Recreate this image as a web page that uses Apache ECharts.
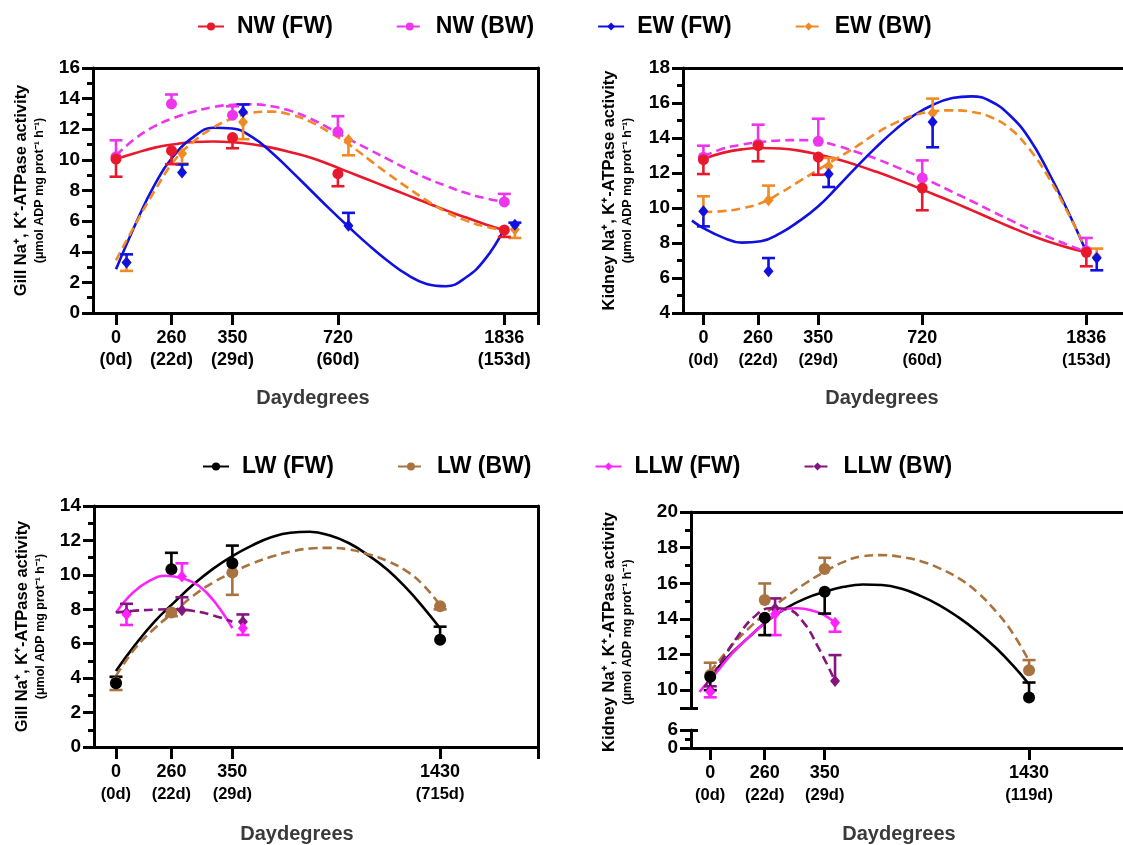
<!DOCTYPE html>
<html>
<head>
<meta charset="utf-8">
<script src="https://cdn.jsdelivr.net/npm/echarts@6/dist/echarts.min.js"></script>
<style>
  html, body { margin: 0; padding: 0; background: #fff; }
  #chart { width: 1123px; height: 845px; }
</style>
</head>
<body>
<div id="chart"></div>
<script>
// ---------- sampling points on the x axis (plotted x value of each sampling point) ----------
const xTop = [0, 1, 2.1, 4, 7];
const xBottom = [0, 1, 2.1, 5.85];

// ---------- tick labels ----------
const ddTop = ['0', '260', '350', '720', '1836'];
const daysTop = ['(0d)', '(22d)', '(29d)', '(60d)', '(153d)'];
const ddBottom = ['0', '260', '350', '1430'];
const daysGillBottom = ['(0d)', '(22d)', '(29d)', '(715d)'];
const daysKidneyBottom = ['(0d)', '(22d)', '(29d)', '(119d)'];

// ---------- Gill, NW / EW (means and error-bar ends) ----------
const gillNwFwMean = [10.05, 10.6, 11.46, 9.1, 5.42];
const gillNwFwErr  = [8.9, 9.72, 10.76, 8.28, 4.97];
const gillNwBwMean = [10.2, 13.65, 12.92, 11.83, 7.25];
const gillNwBwErr  = [11.28, 14.27, 13.5, 12.85, 7.78];
const gillEwFwMean = [3.29, 9.17, 13.12, 5.69, 5.77];
const gillEwFwErr  = [3.83, 9.7, 13.62, 6.54, 5.9];
const gillEwBwMean = [3.3, 10.41, 12.48, 11.29, 5.45];
const gillEwBwErr  = [2.75, 9.76, 11.35, 10.3, 4.9];

// fitted curves, [x, activity]
const gillNwFwFit = [[0,10.05],[0.35,10.45],[0.7,10.8],[1.05,11.02],[1.4,11.17],[1.75,11.2],[2.1,11.15],[2.45,11.02],[2.8,10.8],[3.15,10.5],[3.5,10.15],[3.85,9.7],[4.2,9.2],[4.55,8.7],[4.9,8.2],[5.25,7.7],[5.6,7.2],[5.95,6.7],[6.3,6.25],[6.65,5.8],[7,5.4]];
const gillNwBwFit = [[0,10.3],[0.35,11.4],[0.7,12.2],[1.05,12.75],[1.4,13.15],[1.75,13.45],[2.1,13.6],[2.45,13.63],[2.8,13.5],[3.15,13.2],[3.5,12.7],[3.85,12.05],[4.2,11.35],[4.55,10.7],[4.9,10.05],[5.25,9.4],[5.6,8.8],[5.95,8.3],[6.3,7.85],[6.65,7.5],[7,7.25]];
const gillEwFwFit = [[0,2.85],[0.35,5.8],[0.7,8.4],[1.05,10.3],[1.4,11.5],[1.75,12.1],[2.1,12.05],[2.45,11.5],[2.8,10.5],[3.15,9.3],[3.5,8.05],[3.85,6.8],[4.2,5.6],[4.55,4.45],[4.9,3.4],[5.25,2.5],[5.6,1.9],[5.95,1.75],[6.3,2.3],[6.65,3.5],[7,5.5]];
const gillEwBwFit = [[0,3.44],[0.35,5.8],[0.7,8.0],[1.05,9.95],[1.4,11.2],[1.75,12.1],[2.1,12.7],[2.45,13.08],[2.8,13.15],[3.15,12.95],[3.5,12.5],[3.85,11.8],[4.2,11.0],[4.55,10.05],[4.9,9.1],[5.25,8.2],[5.6,7.35],[5.95,6.6],[6.3,6.05],[6.65,5.65],[7,5.4]];

// ---------- Kidney, NW / EW ----------
const kidNwFwMean = [12.76, 13.56, 12.91, 11.14, 7.47];
const kidNwFwErr  = [11.94, 12.67, 11.9, 9.87, 6.67];
const kidNwBwMean = [12.9, 13.65, 13.81, 11.71, 7.55];
const kidNwBwErr  = [13.56, 14.76, 15.1, 12.72, 8.29];
const kidEwFwMean = [9.81, 6.38, 11.94, 14.91, 7.14];
const kidEwFwErr  = [8.95, 7.14, 11.2, 13.47, 6.44];
const kidEwBwMean = [9.8, 10.44, 12.38, 15.43, 7.2];
const kidEwBwErr  = [10.67, 11.28, 12.86, 16.25, 7.68];

const kidNwFwFit = [[0,12.8],[0.35,13.15],[0.7,13.35],[1.05,13.43],[1.4,13.4],[1.75,13.28],[2.1,13.05],[2.45,12.78],[2.8,12.45],[3.15,12.08],[3.5,11.68],[3.85,11.25],[4.2,10.8],[4.55,10.35],[4.9,9.88],[5.25,9.4],[5.6,8.93],[5.95,8.48],[6.3,8.08],[6.65,7.75],[7,7.47]];
const kidNwBwFit = [[0,12.95],[0.35,13.38],[0.7,13.62],[1.05,13.77],[1.4,13.86],[1.75,13.88],[2.1,13.81],[2.45,13.55],[2.8,13.2],[3.15,12.82],[3.5,12.38],[3.85,11.92],[4.2,11.45],[4.55,10.92],[4.9,10.4],[5.25,9.85],[5.6,9.32],[5.95,8.8],[6.3,8.35],[6.65,7.9],[7,7.52]];
const kidEwFwFit = [[-0.21,9.28],[0,8.85],[0.35,8.32],[0.7,8.02],[1.05,8.1],[1.4,8.55],[1.75,9.25],[2.1,10.1],[2.45,11.2],[2.8,12.35],[3.15,13.45],[3.5,14.45],[3.85,15.3],[4.2,15.9],[4.55,16.28],[4.9,16.38],[5.25,16.1],[5.6,15.3],[5.95,14.0],[6.3,12.1],[6.65,9.9],[7,7.5]];
const kidEwBwFit = [[0,9.77],[0.35,9.82],[0.7,9.98],[1.05,10.28],[1.4,10.85],[1.75,11.52],[2.1,12.19],[2.45,12.85],[2.8,13.52],[3.15,14.25],[3.5,14.85],[3.85,15.3],[4.2,15.52],[4.55,15.58],[4.9,15.5],[5.25,15.2],[5.6,14.55],[5.95,13.4],[6.3,11.8],[6.65,9.8],[7,7.6]];

// ---------- Gill, LW / LLW ----------
const gillLwFwMean  = [3.7, 10.32, 10.67, 6.23];
const gillLwFwErr   = [4.08, 11.28, 11.7, 6.99];
const gillLwBwMean  = [3.75, 7.81, 10.13, 8.17];
const gillLwBwErr   = [3.31, 7.6, 8.84, 8.0];
const gillLlwFwMean = [7.7, 9.9, 6.9];
const gillLlwFwErr  = [7.09, 10.67, 6.51];
const gillLlwBwMean = [7.8, 7.94, 7.28];
const gillLlwBwErr  = [8.32, 8.7, 7.7];

const gillLwFwFit  = [[0,4.42],[0.35,5.95],[0.7,7.3],[1.05,8.4],[1.4,9.45],[1.75,10.35],[2.1,11.09],[2.45,11.7],[2.8,12.18],[3.15,12.45],[3.5,12.5],[3.85,12.3],[4.2,11.85],[4.55,11.15],[4.9,10.3],[5.25,9.2],[5.55,8.1],[5.85,6.9]];
const gillLwBwFit  = [[0,4.13],[0.35,5.75],[0.7,6.9],[1.05,7.85],[1.4,8.8],[1.75,9.55],[2.1,10.13],[2.45,10.65],[2.8,11.05],[3.15,11.35],[3.5,11.53],[3.85,11.57],[4.2,11.48],[4.55,11.2],[4.9,10.8],[5.25,10.2],[5.55,9.4],[5.85,8.23]];
const gillLlwFwFit = [[0,7.8],[0.3,8.95],[0.6,9.65],[0.9,9.95],[1.2,9.8],[1.5,9.35],[1.8,8.35],[2.1,6.9]];
const gillLlwBwFit = [[0,7.81],[0.35,7.92],[0.7,7.98],[1.05,8.0],[1.4,7.9],[1.75,7.65],[2.1,7.28]];

// ---------- Kidney, LW / LLW ----------
const kidLwFwMean  = [10.75, 14.06, 15.52, 9.59];
const kidLwFwErr   = [10.0, 13.09, 14.3, 10.43];
const kidLwBwMean  = [10.85, 15.06, 16.8, 11.12];
const kidLwBwErr   = [11.54, 15.99, 17.43, 11.69];
const kidLlwFwMean = [9.9, 14.27, 13.78];
const kidLlwFwErr  = [9.6, 13.09, 13.28];
const kidLlwBwMean = [10.0, 14.59, 10.52];
const kidLlwBwErr  = [10.22, 15.15, 11.97];

const kidLwFwFit  = [[0,10.75],[0.35,11.95],[0.7,12.95],[1.05,13.9],[1.4,14.62],[1.75,15.15],[2.1,15.52],[2.45,15.8],[2.8,15.93],[3.15,15.9],[3.5,15.7],[3.85,15.3],[4.2,14.78],[4.55,14.1],[4.9,13.3],[5.25,12.35],[5.55,11.4],[5.84,10.37]];
const kidLwBwFit  = [[0,11.03],[0.35,12.35],[0.7,13.45],[1.05,14.4],[1.4,15.25],[1.75,16.0],[2.1,16.65],[2.45,17.2],[2.8,17.52],[3.15,17.58],[3.5,17.48],[3.85,17.25],[4.2,16.85],[4.55,16.3],[4.9,15.5],[5.25,14.4],[5.55,13.2],[5.84,11.69]];
const kidLlwFwFit = [[-0.2,9.9],[0.1,10.95],[0.4,12.05],[0.7,12.95],[1.0,13.75],[1.3,14.45],[1.6,14.6],[1.9,14.45],[2.1,14.2],[2.29,13.78]];
const kidLlwBwFit = [[-0.1,10.2],[0.2,11.6],[0.5,13.0],[0.8,14.1],[1.1,14.6],[1.4,14.55],[1.7,13.85],[2.0,12.3],[2.29,10.52]];

// ---------- styling ----------
const FONT = "'Liberation Sans', Arial, Helvetica, sans-serif";
const AXIS_W = 3;
const LINE_W = 2.6;
const CAP = 6.5;
const NUDGE = 0.19;           // side-by-side shift of the second group of markers
const DASH = [9, 5];

const C = {
  nwFw: '#e8192c', nwBw: '#ec35ec', ewFw: '#1010e0', ewBw: '#f08a24',
  lwFw: '#000000', lwBw: '#a97340', llwFw: '#ff22ff', llwBw: '#84157f'
};

const nudgeAll5 = [NUDGE, NUDGE, NUDGE, NUDGE, NUDGE];
const nudgeNot0_5 = [0, NUDGE, NUDGE, NUDGE, NUDGE];
const nudgeAll3 = [NUDGE, NUDGE, NUDGE];
const nudgeNot0_3 = [0, NUDGE, NUDGE];

function errorBars(color) {
  return function (params, api) {
    const a = api.coord([api.value(0), api.value(1)]);
    const b = api.coord([api.value(0), api.value(2)]);
    const st = { stroke: color, lineWidth: LINE_W };
    return {
      type: 'group',
      children: [
        { type: 'line', shape: { x1: a[0], y1: a[1], x2: b[0], y2: b[1] }, style: st },
        { type: 'line', shape: { x1: b[0] - CAP, y1: b[1], x2: b[0] + CAP, y2: b[1] }, style: st }
      ]
    };
  };
}

// earlier groups are drawn on top of later ones
function panelSeries(xi, yi, xs, groups) {
  const out = [];
  groups.forEach((g, gi) => {
    const size = g.symbol === 'diamond' ? [10, 12] : g.size;
    const px = i => xs[i] + (g.nudge ? g.nudge[i] : 0);
    out.push({
      type: 'line', name: g.name, xAxisIndex: xi, yAxisIndex: yi,
      data: g.fit, smooth: 0.45, showSymbol: false,
      symbol: g.symbol, symbolSize: size,
      lineStyle: { color: g.color, width: LINE_W, type: g.dash ? DASH : 'solid' },
      itemStyle: { color: g.color },
      z: 2, silent: true, animation: false
    });
    out.push({
      type: 'custom', name: g.name + ' SEM', xAxisIndex: xi, yAxisIndex: yi,
      data: g.mean.map((m, i) => [px(i), m, g.err[i]]),
      encode: { x: 0, y: [1, 2] },
      renderItem: errorBars(g.color),
      z: 10 - gi, silent: true, animation: false
    });
    out.push({
      type: 'scatter', name: g.name + ' mean', xAxisIndex: xi, yAxisIndex: yi,
      data: g.mean.map((m, i) => [px(i), m]),
      symbol: g.symbol, symbolSize: size,
      itemStyle: { color: g.color, opacity: 1 },
      z: 20 - gi, silent: true, animation: false
    });
  });
  return out;
}

// ---------- axes ----------
function tickLabelFormatter(xs, dd, days) {
  return v => {
    const i = xs.findIndex(p => Math.abs(p - v) < 1e-6);
    return i < 0 ? '' : '{a|' + dd[i] + '}\n{b|' + days[i] + '}';
  };
}

function bottomAxis(grid, min, max, xs, dd, days, opts) {
  const ticks = opts.endTick ? xs.concat([max]) : xs.slice();
  return {
    gridIndex: grid, type: 'value', position: 'bottom', min: min, max: max,
    axisLine: { show: true, onZero: false, lineStyle: { color: '#000', width: AXIS_W } },
    axisTick: { show: true, customValues: ticks, length: 12, lineStyle: { color: '#000', width: AXIS_W } },
    axisLabel: {
      show: true, customValues: xs, margin: 15,
      formatter: tickLabelFormatter(xs, dd, days),
      rich: {
        a: { fontFamily: FONT, fontSize: 18, fontWeight: 'bold', color: '#000', lineHeight: 21 },
        b: { fontFamily: FONT, fontSize: opts.dayFont, fontWeight: 'bold', color: '#000', lineHeight: 22 }
      }
    },
    splitLine: { show: false },
    name: 'Daydegrees', nameLocation: 'middle', nameGap: opts.nameGap,
    nameTextStyle: { fontFamily: FONT, fontSize: 20, fontWeight: 'bold', color: '#3a3a3a', padding: [0, opts.namePad, 0, 0] }
  };
}

function borderXAxis(grid, min, max) {
  return {
    gridIndex: grid, type: 'value', position: 'top', min: min, max: max,
    axisLine: { show: true, onZero: false, lineStyle: { color: '#000', width: AXIS_W } },
    axisTick: { show: false }, axisLabel: { show: false }, splitLine: { show: false }
  };
}

function yTitle(organ) {
  return '{t|' + organ + ' Na⁺, K⁺-ATPase activity}\n{s|(μmol ADP mg prot⁻¹ h⁻¹)}';
}
const yTitleStyle = {
  rich: {
    t: { fontFamily: FONT, fontSize: 16.5, fontWeight: 'bold', color: '#000', lineHeight: 21 },
    s: { fontFamily: FONT, fontSize: 12.5, fontWeight: 'bold', color: '#000', lineHeight: 16 }
  }
};

const tickLabelStyle = { fontFamily: FONT, fontSize: 19, fontWeight: 'bold', color: '#000', margin: 13, showMinLabel: true, showMaxLabel: true, hideOverlap: false };

function leftAxis(grid, min, max, organ, gap) {
  return {
    gridIndex: grid, type: 'value', position: 'left', min: min, max: max, interval: 2,
    axisLine: { show: true, onZero: false, lineStyle: { color: '#000', width: AXIS_W } },
    axisTick: { show: true, length: 11, lineStyle: { color: '#000', width: AXIS_W } },
    minorTick: { show: true, splitNumber: 2, length: 6, lineStyle: { color: '#000', width: AXIS_W } },
    axisLabel: tickLabelStyle,
    splitLine: { show: false }, minorSplitLine: { show: false },
    name: yTitle(organ), nameLocation: 'middle', nameRotate: 90, nameGap: gap,
    nameTextStyle: yTitleStyle
  };
}

function rightBorder(grid, min, max) {
  return {
    gridIndex: grid, type: 'value', position: 'right', min: min, max: max,
    axisLine: { show: true, onZero: false, lineStyle: { color: '#000', width: AXIS_W } },
    axisTick: { show: false }, axisLabel: { show: false }, splitLine: { show: false }
  };
}

// x ranges of each panel
const TL = { min: -0.415, max: 7.607 };
const TR = { min: -0.373, max: 7.67 };
const BL = { min: -0.397, max: 7.617 };
const BR = { min: -0.353, max: 7.574 };

const legendText = { fontFamily: FONT, fontSize: 23, fontWeight: 'bold', color: '#000', padding: [0, 0, 0, 8] };

const option = {
  backgroundColor: '#ffffff',
  animation: false,
  legend: [
    { data: ['NW (FW)', 'NW (BW)', 'EW (FW)', 'EW (BW)'], left: 192, top: 10,
      itemWidth: 26, itemHeight: 10, itemGap: 63, selectedMode: false, textStyle: legendText },
    { data: ['LW (FW)', 'LW (BW)', 'LLW (FW)', 'LLW (BW)'], left: 197, top: 450,
      itemWidth: 26, itemHeight: 10, itemGap: 63, selectedMode: false, textStyle: legendText }
  ],
  grid: [
    { left: 93, top: 68, width: 445, height: 245 },   // gill NW/EW
    { left: 683, top: 68, width: 444, height: 245 },  // kidney NW/EW
    { left: 94, top: 506, width: 444, height: 245 },  // gill LW/LLW
    { left: 691, top: 512, width: 436, height: 196 }, // kidney LW/LLW, upper part 9–20
    { left: 691, top: 730, width: 436, height: 22 },  // kidney LW/LLW, lower part 0–6
    { left: 691, top: 512, width: 436, height: 240 }  // kidney LW/LLW, title holder
  ],
  xAxis: [
    bottomAxis(0, TL.min, TL.max, xTop, ddTop, daysTop, { endTick: true, dayFont: 18, namePad: 5, nameGap: 75 }),
    borderXAxis(0, TL.min, TL.max),
    bottomAxis(1, TR.min, TR.max, xTop, ddTop, daysTop, { endTick: false, dayFont: 16.5, namePad: 42, nameGap: 75 }),
    borderXAxis(1, TR.min, TR.max),
    bottomAxis(2, BL.min, BL.max, xBottom, ddBottom, daysGillBottom, { endTick: true, dayFont: 16.5, namePad: 38, nameGap: 77 }),
    borderXAxis(2, BL.min, BL.max),
    borderXAxis(3, BR.min, BR.max),
    bottomAxis(4, BR.min, BR.max, xBottom, ddBottom, daysKidneyBottom, { endTick: false, dayFont: 16.5, namePad: 16, nameGap: 76 }),
    { gridIndex: 5, type: 'value', show: false, min: 0, max: 1 }
  ],
  yAxis: [
    leftAxis(0, 0, 16, 'Gill', 45),
    rightBorder(0, 0, 16),
    leftAxis(1, 4, 18, 'Kidney', 47),
    leftAxis(2, 0, 14, 'Gill', 45),
    rightBorder(2, 0, 14),
    // kidney LW/LLW upper part: labelled major ticks
    {
      gridIndex: 3, type: 'value', position: 'left', min: 9, max: 20,
      axisLine: { show: true, onZero: false, lineStyle: { color: '#000', width: AXIS_W } },
      axisTick: { show: true, customValues: [9, 10, 12, 14, 16, 18, 20], length: 11, lineStyle: { color: '#000', width: AXIS_W } },
      axisLabel: Object.assign({}, tickLabelStyle, { customValues: [10, 12, 14, 16, 18, 20] }),
      splitLine: { show: false }
    },
    // minor ticks
    {
      gridIndex: 3, type: 'value', position: 'left', min: 9, max: 20,
      axisLine: { show: false, onZero: false },
      axisTick: { show: true, customValues: [11, 13, 15, 17, 19], length: 6, lineStyle: { color: '#000', width: AXIS_W } },
      axisLabel: { show: false }, splitLine: { show: false }
    },
    // break mark (inner half)
    {
      gridIndex: 3, type: 'value', position: 'left', min: 9, max: 20,
      axisLine: { show: false, onZero: false },
      axisTick: { show: true, inside: true, customValues: [9], length: 7, lineStyle: { color: '#000', width: AXIS_W } },
      axisLabel: { show: false }, splitLine: { show: false }
    },
    // lower part 0–6: line, ticks and the "0" label
    {
      gridIndex: 4, type: 'value', position: 'left', min: 0, max: 6,
      axisLine: { show: true, onZero: false, lineStyle: { color: '#000', width: AXIS_W } },
      axisTick: { show: true, customValues: [0, 6], length: 11, lineStyle: { color: '#000', width: AXIS_W } },
      axisLabel: Object.assign({}, tickLabelStyle, { customValues: [0] }),
      splitLine: { show: false }
    },
    // lower part: minor tick
    {
      gridIndex: 4, type: 'value', position: 'left', min: 0, max: 6,
      axisLine: { show: false, onZero: false },
      axisTick: { show: true, customValues: [3], length: 6, lineStyle: { color: '#000', width: AXIS_W } },
      axisLabel: { show: false }, splitLine: { show: false }
    },
    // lower part: break mark (inner half) and the "6" label
    {
      gridIndex: 4, type: 'value', position: 'left', min: 0, max: 6,
      axisLine: { show: false, onZero: false },
      axisTick: { show: true, inside: true, customValues: [6], length: 7, lineStyle: { color: '#000', width: AXIS_W } },
      axisLabel: Object.assign({}, tickLabelStyle, { customValues: [6], inside: false }),
      splitLine: { show: false }
    },
    // title holder spanning both parts
    {
      gridIndex: 5, type: 'value', position: 'left', min: 0, max: 1,
      axisLine: { show: false, onZero: false }, axisTick: { show: false }, axisLabel: { show: false },
      splitLine: { show: false },
      name: yTitle('Kidney'), nameLocation: 'middle', nameRotate: 90, nameGap: 55,
      nameTextStyle: yTitleStyle
    }
  ],
  series: [].concat(
    panelSeries(0, 0, xTop, [
      { name: 'NW (FW)', color: C.nwFw, symbol: 'circle', size: 11, dash: false, fit: gillNwFwFit, mean: gillNwFwMean, err: gillNwFwErr },
      { name: 'NW (BW)', color: C.nwBw, symbol: 'circle', size: 11, dash: true, fit: gillNwBwFit, mean: gillNwBwMean, err: gillNwBwErr },
      { name: 'EW (FW)', color: C.ewFw, symbol: 'diamond', dash: false, fit: gillEwFwFit, mean: gillEwFwMean, err: gillEwFwErr, nudge: nudgeAll5 },
      { name: 'EW (BW)', color: C.ewBw, symbol: 'diamond', dash: true, fit: gillEwBwFit, mean: gillEwBwMean, err: gillEwBwErr, nudge: nudgeAll5 }
    ]),
    panelSeries(2, 2, xTop, [
      { name: 'NW (FW)', color: C.nwFw, symbol: 'circle', size: 11, dash: false, fit: kidNwFwFit, mean: kidNwFwMean, err: kidNwFwErr },
      { name: 'NW (BW)', color: C.nwBw, symbol: 'circle', size: 11, dash: true, fit: kidNwBwFit, mean: kidNwBwMean, err: kidNwBwErr },
      { name: 'EW (FW)', color: C.ewFw, symbol: 'diamond', dash: false, fit: kidEwFwFit, mean: kidEwFwMean, err: kidEwFwErr, nudge: nudgeNot0_5 },
      { name: 'EW (BW)', color: C.ewBw, symbol: 'diamond', dash: true, fit: kidEwBwFit, mean: kidEwBwMean, err: kidEwBwErr, nudge: nudgeNot0_5 }
    ]),
    panelSeries(4, 3, xBottom, [
      { name: 'LW (FW)', color: C.lwFw, symbol: 'circle', size: 12, dash: false, fit: gillLwFwFit, mean: gillLwFwMean, err: gillLwFwErr },
      { name: 'LW (BW)', color: C.lwBw, symbol: 'circle', size: 12, dash: true, fit: gillLwBwFit, mean: gillLwBwMean, err: gillLwBwErr },
      { name: 'LLW (FW)', color: C.llwFw, symbol: 'diamond', dash: false, fit: gillLlwFwFit, mean: gillLlwFwMean, err: gillLlwFwErr, nudge: nudgeAll3 },
      { name: 'LLW (BW)', color: C.llwBw, symbol: 'diamond', dash: true, fit: gillLlwBwFit, mean: gillLlwBwMean, err: gillLlwBwErr, nudge: nudgeAll3 }
    ]),
    panelSeries(6, 5, xBottom, [
      { name: 'LW (FW)', color: C.lwFw, symbol: 'circle', size: 12, dash: false, fit: kidLwFwFit, mean: kidLwFwMean, err: kidLwFwErr },
      { name: 'LW (BW)', color: C.lwBw, symbol: 'circle', size: 12, dash: true, fit: kidLwBwFit, mean: kidLwBwMean, err: kidLwBwErr },
      { name: 'LLW (FW)', color: C.llwFw, symbol: 'diamond', dash: false, fit: kidLlwFwFit, mean: kidLlwFwMean, err: kidLlwFwErr, nudge: nudgeNot0_3 },
      { name: 'LLW (BW)', color: C.llwBw, symbol: 'diamond', dash: true, fit: kidLlwBwFit, mean: kidLlwBwMean, err: kidLlwBwErr, nudge: nudgeNot0_3 }
    ])
  )
};

const chart = echarts.init(document.getElementById('chart'), null, { renderer: 'canvas' });
chart.setOption(option);
</script>
</body>
</html>
